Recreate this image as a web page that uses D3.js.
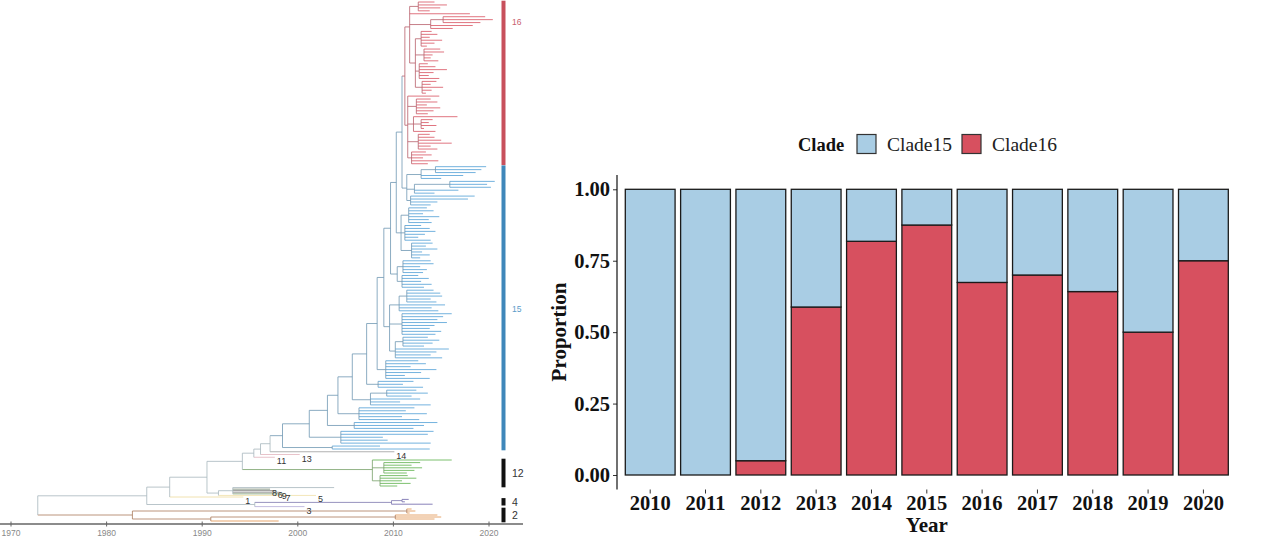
<!DOCTYPE html>
<html><head><meta charset="utf-8">
<script src="https://cdn.jsdelivr.net/npm/d3@7/dist/d3.min.js"></script>
<style>body{margin:0;background:#fff}svg{display:block}</style>
</head><body>
<svg id="c" width="1264" height="537"></svg>
<script>
// ---------------- bar chart data ----------------
const years = ['2010','2011','2012','2013','2014','2015','2016','2017','2018','2019','2020'];
const clade16 = [0, 0, 0.05, 0.588, 0.818, 0.875, 0.674, 0.70, 0.642, 0.50, 0.75];
const clade15 = [1, 1, 0.95, 0.412, 0.182, 0.125, 0.326, 0.30, 0.358, 0.50, 0.25];
const legendKeys = ['Clade15','Clade16'];
const yTicks = [0, 0.25, 0.5, 0.75, 1];
const treeYears = [1970, 1980, 1990, 2000, 2010, 2020];

// ---------------- phylogeny data (node / tip dates, estimated) ----------------
// internal node: [date, child, child, ...]; tip: date or {t,label,color}
const tree16 = [2011.2,
  [2011.7,
    [2012.6, 2014.3, 2015.6, 2014.9, 2013.8],
    2018.0,
    [2013.9, [2015.2, 2019.6, 2020.4, 2019.1], 2018.3, 2016.2],
    [2012.3,
      [2012.9, 2014.0, 2014.6, 2013.8, 2015.1, 2014.3, 2013.5],
      [2013.2, 2014.9, 2015.3, 2014.1, 2013.9, 2014.7],
      [2012.7, 2013.6, 2014.4, 2015.6, 2014.2, 2013.7, 2014.8],
      [2013.0, 2014.5, 2013.9, 2015.2, 2014.0, 2013.4]]],
  [2011.5,
    2014.8,
    [2012.4, 2013.9, 2014.6, 2013.5, 2014.9, 2014.2, 2013.6],
    [2012.1, 2016.7, [2012.9, 2014.1, 2013.7, 2014.5, 2013.2], 2014.4],
    [2012.6, 2013.8, 2014.3, 2015.0, 2016.1, 2013.9, 2014.6],
    [2011.9, 2013.4, 2014.0, 2013.1, 2014.7, 2013.6]]];

// clade 15 backbone (top to bottom): [node date, side sub-clade]
const blueSpine = [
  [2010.9, [2011.4,
    [2012.9, [2014.4, 2019.7, 2019.2, 2018.6], 2017.3, 2015.0],
    [2012.2, [2015.9, 2020.6, 2019.8, 2020.2], 2016.8, 2014.3],
    [2011.8, 2018.5, 2017.8, 2014.6, 2013.9]]],
  [2010.3, [2010.8,
    [2011.6, 2013.5, 2014.2, 2013.1, 2014.8, 2013.7, 2014.0],
    [2011.2, 2012.9, 2013.8, 2014.4, 2013.3, 2012.6, 2013.9],
    [2011.9, 2014.1, 2013.4, 2014.6, 2013.0, 2013.8, 2012.8]]],
  [2009.7, [2010.4,
    [2011.0, 2013.9, 2014.2, 2012.8, 2013.5, 2013.1],
    [2010.9, 2012.6, 2013.7, 2012.9, 2014.0, 2013.2]]],
  [2009.0, [2009.6,
    [2010.6, [2011.4, 2014.2, 2014.9, 2015.1, 2013.9, 2014.5], 2015.4, 2014.0, 2014.7],
    [2010.9, 2016.1, 2015.2, 2014.6, 2015.6, 2014.3, 2013.8, 2015.0, 2014.4],
    [2010.2, [2011.0, 2013.6, 2014.8, 2014.1, 2013.2], 2015.8, 2014.5, 2013.9, 2015.1]]],
  [2008.3, [2009.2, 2012.6, 2013.4, 2011.8, 2014.5, 2012.9, 2011.2, 2013.8]],
  [2007.2, [2008.4, 2012.1, 2011.0, 2013.1]],
  [2005.7, [2007.6, [2009.3, 2012.4, 2013.6, 2011.9], 2012.8, 2010.7, 2013.9]],
  [2004.2, [2006.4, 2012.2, 2011.3, 2013.5, 2010.9, 2012.7]],
  [2003.1, [2005.9, 2014.6, 2013.2, 2012.1]],
  [2001.2, [2004.5, 2014.2, 2013.6, 2008.9, 2009.4, 2013.9]],
  [1998.4, [2003.6, 2008.6, 2013.8]]];

const tree12 = [2007.8, 2016.1,
  [2009.0, 2012.8, 2011.9, 2013.0, 2012.2, 2011.4],
  [2008.6, 2011.5, 2012.4, 2010.9, 2011.8, 2010.4]];
const tree4 = [2009.8, [2010.9, 2011.6, 2011.2], 2014.1];
const tree2 = [1982.7, [2011.4, 2011.9, 2012.3, 2011.7], [1990.9, [2010.2, 2014.6, 2015.0, 2014.3], 1998.0]];
const tips14 = {t: 2010.1, label: '14', color: '#9c9c9c'};
const tips13 = {t: 2000.2, label: '13', color: '#e2b4bd'};
const tips11 = {t: 1997.6, label: '11', color: '#e2b4bd'};
const tree5to9 = [1991.7,
  [1993.2, 2003.8, {t: 1997.1, label: '8', color: '#6f7f6a'}, {t: 1997.7, label: '6', color: '#6f6f6f'},
           {t: 1998.1, label: '9', color: '#8a8a8a'}, {t: 1998.5, label: '7', color: '#7a9a70'}],
  {t: 2001.9, label: '5', color: '#f0dfa6'}];
const tip1 = {t: 1994.3, label: '1', color: '#eedb9c'};
const tip3 = {t: 2000.7, label: '3', color: '#b4abd8'};

// ---------------- build tree ----------------
const tree15 = blueSpine.reduce((acc, s) => [s[0], acc, s[1]], tree16);
const treeRoot = [1972.8,
  [1984.2,
    [1986.6,
      [1990.5,
        [1994.2, [1995.4, [1996.1, [1997.1, tree15, tips14], tips13], tips11], tree12],
        tree5to9],
      tip1],
    [1995.5, tree4, tip3]],
  tree2];

const svg = d3.select('#c');
const date = d => Array.isArray(d) ? d[0] : (typeof d === 'object' ? d.t : d);
const root = d3.hierarchy(treeRoot, d => Array.isArray(d) ? d.slice(1) : null);
const leaves = root.leaves();
const idxOf = d => leaves.findIndex(l => l.data === d);
const firstLeafOf = ref => root.descendants().find(n => n.data === ref).leaves();
const g12 = firstLeafOf(tree12), g2 = firstLeafOf(tree2);
const nTop = idxOf(tips14);
const ty = d3.scaleLinear()
  .domain([0, nTop - 1, leaves.indexOf(g12[0]), leaves.indexOf(g12[g12.length - 1]), idxOf(tip1), leaves.indexOf(g2[0]), leaves.length - 1])
  .range([2, 449, 460, 486, 497, 509, 521]);
const tx = d3.scaleLinear().domain([1970, 2020]).range([11, 489]);
leaves.forEach((l, i) => { l.yy = ty(i); l.idx = i; });
root.eachAfter(n => { if (n.children) n.yy = d3.mean(n.children, c => c.yy); });

const clades = [
  {name: '15', ref: tree15, tip: '#4f9ed5', inner: '#6f97b3', bar: '#3f87ba', label: '#5c9cc9'},
  {name: '16', ref: tree16, tip: '#d8505f', inner: '#b8606b', bar: '#c8505c', label: '#c8606e', top: true},
  {name: '12', ref: tree12, tip: '#5cb04a', inner: '#76a068', bar: '#111', label: '#333'},
  {name: '4', ref: tree4, tip: '#6a62a8', inner: '#7c76ad', bar: '#111', label: '#333'},
  {name: '2', ref: tree2, tip: '#e0914a', inner: '#a97a5c', bar: '#111', label: '#333'}];
root.each(n => { n.col = '#a7b6bc'; });
clades.forEach(c => {
  const node = root.descendants().find(n => n.data === c.ref);
  node.each(m => { m.clade = c; m.col = m.children ? c.inner : c.tip; });
});
root.each(n => { if (!n.children && typeof n.data === 'object') n.col = n.data.color; });

const gt = svg.append('g');
// horizontal edges
gt.selectAll('line.h').data(root.descendants().filter(n => n.parent)).join('line')
  .attr('x1', n => tx(date(n.parent.data))).attr('x2', n => tx(date(n.data)))
  .attr('y1', n => n.yy).attr('y2', n => n.yy)
  .attr('stroke', n => n.col).attr('stroke-width', 0.8);
// vertical edges
gt.selectAll('line.v').data(root.descendants().filter(n => n.children)).join('line')
  .attr('x1', n => tx(date(n.data))).attr('x2', n => tx(date(n.data)))
  .attr('y1', n => n.children[0].yy).attr('y2', n => n.children[n.children.length - 1].yy)
  .attr('stroke', n => n.col).attr('stroke-width', 0.8);
// tip labels
gt.selectAll('text.tl').data(leaves.filter(l => typeof l.data === 'object')).join('text')
  .attr('x', l => tx(date(l.data)) + 2).attr('y', l => l.yy + 7)
  .attr('font-family', 'Liberation Sans, Arial, sans-serif').attr('font-size', 9).attr('fill', '#333')
  .text(l => l.data.label);

// clade bars
const half = 1.3;
const barData = clades.map(c => {
  const ls = leaves.filter(l => l.clade === c);
  const y0 = Math.max(0, d3.min(ls, l => l.yy) - half), y1 = d3.max(ls, l => l.yy) + half;
  return {c, y0, y1};
});
gt.selectAll('rect.cb').data(barData).join('rect')
  .attr('x', 501.5).attr('width', 4).attr('y', d => d.y0).attr('height', d => d.y1 - d.y0)
  .attr('fill', d => d.c.bar);
gt.selectAll('text.cb').data(barData).join('text')
  .attr('x', 512).attr('y', d => d.c.top ? 25 : (d.y0 + d.y1) / 2 + 4)
  .attr('font-family', 'Liberation Sans, Arial, sans-serif').attr('font-size', d => d.c.top || d.c.name === '15' ? 8.5 : 10.5)
  .attr('fill', d => d.c.label).text(d => d.c.name);

// tree time axis
const gax = gt.append('g').attr('transform', 'translate(0,524)');
gax.append('line').attr('x1', 0).attr('x2', 523).attr('stroke', '#666').attr('stroke-width', 1.6);
gax.selectAll('line.t').data(treeYears).join('line')
  .attr('x1', d => tx(d)).attr('x2', d => tx(d)).attr('y1', -2.5).attr('y2', 2.5).attr('stroke', '#666');
gax.selectAll('text').data(treeYears).join('text')
  .attr('x', d => tx(d)).attr('y', 11.5).attr('text-anchor', 'middle')
  .attr('font-family', 'Liberation Sans, Arial, sans-serif').attr('font-size', 8.5).attr('fill', '#888')
  .text(d => d);

// ---------------- stacked bar chart ----------------
const serif = 'Liberation Serif, Times New Roman, serif';
const colors = {Clade15: '#a9cde4', Clade16: '#d7505f'};
const rows = years.map((yr, i) => ({year: yr, Clade16: clade16[i], Clade15: clade15[i]}));
const series = d3.stack().keys(['Clade16', 'Clade15'])(rows);
const x = d3.scaleBand().domain(years).range([617, 1236.6]).paddingInner(0.1).paddingOuter(0.15);
const y = d3.scaleLinear().domain([0, 1]).range([475, 189.3]);

const gb = svg.append('g');
gb.selectAll('g.s').data(series).join('g').attr('fill', s => colors[s.key])
  .selectAll('rect').data(s => s).join('rect')
  .attr('x', d => x(d.data.year)).attr('width', x.bandwidth())
  .attr('y', d => y(d[1])).attr('height', d => y(d[0]) - y(d[1]))
  .attr('stroke', '#1a1a1a').attr('stroke-width', 1.3);

const yAx = gb.append('g').attr('transform', 'translate(617,0)')
  .call(d3.axisLeft(y).tickValues(yTicks).tickFormat(d3.format('.2f')).tickSize(4).tickSizeOuter(0).tickPadding(3));
yAx.select('.domain').remove();
yAx.append('line').attr('x1', 0).attr('x2', 0).attr('y1', 175).attr('y2', 489.5).attr('stroke', '#111').attr('stroke-width', 1.2);
yAx.selectAll('.tick line').attr('stroke', '#333');
yAx.selectAll('text').attr('font-family', serif).attr('font-size', 20.5).attr('font-weight', 'bold').attr('fill', '#111');

const xAx = gb.append('g').attr('transform', 'translate(0,489.5)')
  .call(d3.axisBottom(x).tickSize(4).tickSizeOuter(0).tickPadding(1.5));
xAx.select('.domain').remove();
xAx.selectAll('.tick line').attr('stroke', '#333');
xAx.selectAll('text').attr('font-family', serif).attr('font-size', 20.5).attr('font-weight', 'bold').attr('fill', '#111');

gb.append('text').attr('x', 926.8).attr('y', 532).attr('text-anchor', 'middle')
  .attr('font-family', serif).attr('font-size', 21).attr('font-weight', 'bold').attr('fill', '#111').text('Year');
gb.append('text').attr('transform', 'translate(566,332) rotate(-90)').attr('text-anchor', 'middle')
  .attr('font-family', serif).attr('font-size', 21).attr('font-weight', 'bold').attr('fill', '#111').text('Proportion');

// legend
const lg = gb.append('g');
lg.append('text').attr('x', 798).attr('y', 150.5).attr('font-family', serif).attr('font-size', 18.5)
  .attr('font-weight', 'bold').attr('fill', '#111').text('Clade');
const keyX = [857, 962];
legendKeys.forEach((k, i) => {
  lg.append('rect').attr('x', keyX[i]).attr('y', 134.5).attr('width', 19).attr('height', 19)
    .attr('fill', colors[k]).attr('stroke', '#333').attr('stroke-width', 1.2);
  lg.append('text').attr('x', keyX[i] + 30).attr('y', 150.5).attr('font-family', serif).attr('font-size', 19.5)
    .attr('fill', '#222').text(k);
});
</script>
</body></html>
